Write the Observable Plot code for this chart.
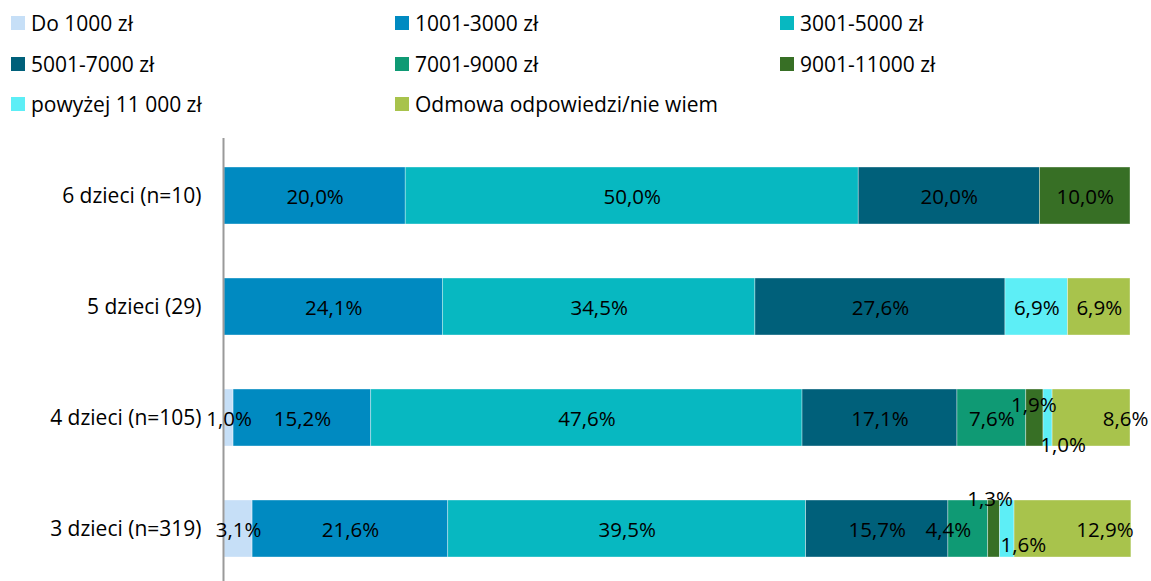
<!DOCTYPE html>
<html>
<head>
<meta charset="utf-8">
<script src="https://cdn.jsdelivr.net/npm/d3@7"></script>
<script src="https://cdn.jsdelivr.net/npm/@observablehq/plot@0.6"></script>
<style>
  html, body { margin: 0; padding: 0; background: #fff; }
  body { width: 1151px; height: 581px; overflow: hidden; font-family: "Open Sans", sans-serif; }
  #legend { position: relative; width: 1151px; height: 128px; }
  .item { position: absolute; height: 14px; font-size: 21px; color: #000; }
  .sw { position: absolute; left: 0; top: 0; width: 14px; height: 14px; }
  .lb { position: absolute; left: 20px; top: 7px; transform: translateY(-50%); white-space: nowrap; line-height: 1; }
</style>
</head>
<body>
<div id="legend"></div>
<div id="chart"></div>
<script>
const rows = ["6 dzieci (n=10)", "5 dzieci (29)", "4 dzieci (n=105)", "3 dzieci (n=319)"];
const categories = ["Do 1000 zł", "1001-3000 zł", "3001-5000 zł", "5001-7000 zł", "7001-9000 zł", "9001-11000 zł", "powyżej 11 000 zł", "Odmowa odpowiedzi/nie wiem"];
const colors = ["#C6DFF7", "#008AC1", "#07B8C1", "#00607A", "#0F9A74", "#376F25", "#5DEEF6", "#A8C34C"];
const values6 = [0, 20.0, 50.0, 20.0, 0, 10.0, 0, 0];
const values5 = [0, 24.1, 34.5, 27.6, 0, 0, 6.9, 6.9];
const values4 = [1.0, 15.2, 47.6, 17.1, 7.6, 1.9, 1.0, 8.6];
const values3 = [3.1, 21.6, 39.5, 15.7, 4.4, 1.3, 1.6, 12.9];
const seriesByRow = [values6, values5, values4, values3];

// label nudges (px) for small segments, as in the original
const nudges = {
  "4 dzieci (n=105)|9001-11000 zł": [-1, -14],
  "4 dzieci (n=105)|powyżej 11 000 zł": [15, 26],
  "4 dzieci (n=105)|Odmowa odpowiedzi/nie wiem": [34, 0],
  "3 dzieci (n=319)|7001-9000 zł": [-20, 0],
  "3 dzieci (n=319)|9001-11000 zł": [-4, -31],
  "3 dzieci (n=319)|powyżej 11 000 zł": [16, 15],
  "3 dzieci (n=319)|Odmowa odpowiedzi/nie wiem": [32, 0]
};

const data = [];
rows.forEach((r, i) => {
  let acc = 0;
  categories.forEach((c, j) => {
    const v = seriesByRow[i][j];
    if (v > 0) {
      data.push({row: r, cat: c, value: v, mid: acc + v / 2, key: r + "|" + c});
      acc += v;
    }
  });
});

const fmt = v => v.toFixed(1).replace(".", ",") + "%";

// Legend
const legend = document.getElementById("legend");
const colX = [11, 395, 780];
const rowY = [16, 57, 97];
categories.forEach((c, i) => {
  const it = document.createElement("div");
  it.className = "item";
  it.style.left = colX[i % 3] + "px";
  it.style.top = rowY[Math.floor(i / 3)] + "px";
  const sw = document.createElement("div");
  sw.className = "sw";
  sw.style.background = colors[i];
  const lb = document.createElement("div");
  lb.className = "lb";
  lb.textContent = c;
  it.appendChild(sw);
  it.appendChild(lb);
  legend.appendChild(it);
});

const plain = data.filter(d => !(d.key in nudges));
const textMarks = [
  Plot.text(plain, {x: "mid", y: "row", text: d => fmt(d.value), fill: "#000", fontSize: 20.5, dy: 1})
];
for (const [k, [dx, dy]] of Object.entries(nudges)) {
  textMarks.push(Plot.text(data.filter(d => d.key === k), {x: "mid", y: "row", text: d => fmt(d.value), fill: "#000", fontSize: 20.5, dx, dy: dy + 1}));
}

const chart = Plot.plot({
  width: 1151,
  height: 453,
  marginLeft: 224,
  marginRight: 21,
  marginTop: 10,
  marginBottom: 0,
  style: {fontFamily: "'Open Sans', sans-serif", fontSize: "21px", color: "#000", background: "#fff"},
  x: {domain: [0, 100], axis: null},
  y: {domain: rows, range: [10, 458], paddingInner: 0.49, paddingOuter: 0.25, label: null},
  color: {domain: categories, range: colors},
  marks: [
    Plot.barX(data, Plot.stackX({x: "value", y: "row", fill: "cat", z: "cat", stroke: "#fff", strokeWidth: 0.6, strokeOpacity: 0.6})),
    Plot.ruleX([0], {stroke: "#9a9a9a", strokeWidth: 2, dx: -1}),
    Plot.axisY({tickSize: 0, tickPadding: 23, fontSize: 21, fill: "#000", label: null}),
    ...textMarks
  ]
});
document.getElementById("chart").appendChild(chart);
</script>
</body>
</html>
